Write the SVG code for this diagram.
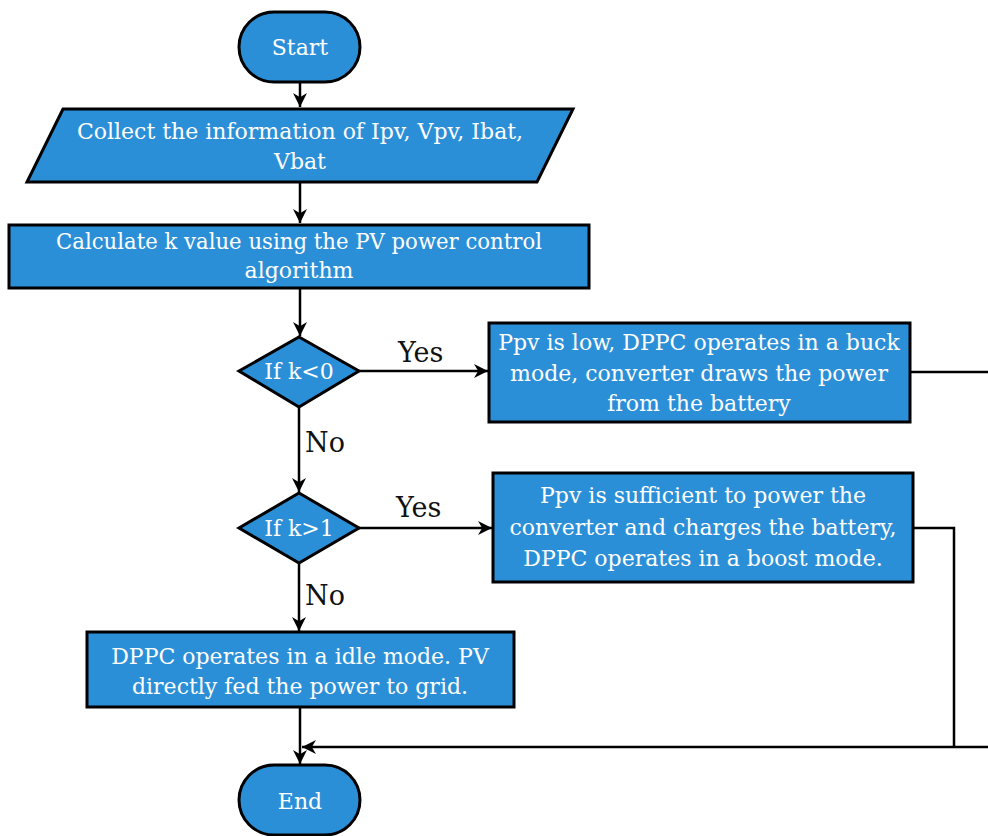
<svg xmlns="http://www.w3.org/2000/svg" width="988" height="836" viewBox="0 0 988 836">
<defs>
<marker id="ah" viewBox="0 0 10 10" refX="10" refY="5" markerWidth="14" markerHeight="14" markerUnits="userSpaceOnUse" orient="auto">
<path d="M0,0 L10,5 L0,10 L3,5 z" fill="#000"/>
</marker>
<style>
.n{fill:#2B8FD8;stroke:#000;stroke-width:3}
.t{font-family:'DejaVu Serif',serif;font-size:22px;fill:#fff;text-anchor:middle}
.l{font-family:'DejaVu Serif',serif;font-size:27px;fill:#111}
.c{fill:none;stroke:#000;stroke-width:2.5}
</style>
</defs>
<rect width="988" height="836" fill="#fff"/>
<g id="connectors">
<line class="c" x1="300" y1="82" x2="300" y2="107" marker-end="url(#ah)"/>
<line class="c" x1="300" y1="183" x2="300" y2="223" marker-end="url(#ah)"/>
<line class="c" x1="300" y1="289" x2="300" y2="336" marker-end="url(#ah)"/>
<line class="c" x1="299" y1="407" x2="299" y2="492" marker-end="url(#ah)"/>
<line class="c" x1="299" y1="563" x2="299" y2="631" marker-end="url(#ah)"/>
<line class="c" x1="300" y1="708" x2="300" y2="764" marker-end="url(#ah)"/>
<line class="c" x1="359" y1="371" x2="488" y2="371" marker-end="url(#ah)"/>
<line class="c" x1="359" y1="528" x2="492" y2="528" marker-end="url(#ah)"/>
<line class="c" x1="911" y1="372" x2="988" y2="372"/>
<polyline class="c" points="914,528 954,528 954,747"/>
<line class="c" x1="988" y1="747" x2="302" y2="747" marker-end="url(#ah)"/>
<text class="l" x="398" y="362">Yes</text>
<text class="l" x="396" y="517">Yes</text>
<text class="l" x="305" y="452">No</text>
<text class="l" x="305" y="605">No</text>
</g>
<g id="start">
<rect class="n" x="239" y="12" width="121" height="70" rx="35" ry="35"/>
<text class="t" x="300" y="55">Start</text>
</g>
<g id="collect">
<polygon class="n" points="63,109 573,109 537,182 27,182"/>
<text class="t" x="300" y="139">Collect the information of Ipv, Vpv, Ibat,</text>
<text class="t" x="300" y="169">Vbat</text>
</g>
<g id="calc">
<rect class="n" x="9" y="225" width="580" height="63"/>
<text class="t" x="299" y="249" textLength="486" lengthAdjust="spacingAndGlyphs">Calculate k value using the PV power control</text>
<text class="t" x="299" y="278">algorithm</text>
</g>
<g id="dec1">
<polygon class="n" points="299,337 359,371 299,407 239,371"/>
<text class="t" x="299" y="379">If k&lt;0</text>
</g>
<g id="dec2">
<polygon class="n" points="299,493 359,528 299,563 239,528"/>
<text class="t" x="299" y="536">If k&gt;1</text>
</g>
<g id="buck">
<rect class="n" x="489" y="323" width="421" height="99"/>
<text class="t" x="699" y="350">Ppv is low, DPPC operates in a buck</text>
<text class="t" x="699" y="381">mode, converter draws the power</text>
<text class="t" x="699" y="411">from the battery</text>
</g>
<g id="boost">
<rect class="n" x="493" y="473" width="420" height="109"/>
<text class="t" x="703" y="503">Ppv is sufficient to power the</text>
<text class="t" x="703" y="535">converter and charges the battery,</text>
<text class="t" x="703" y="566">DPPC operates in a boost mode.</text>
</g>
<g id="idle">
<rect class="n" x="87" y="632" width="427" height="75"/>
<text class="t" x="300" y="664">DPPC operates in a idle mode. PV</text>
<text class="t" x="300" y="694">directly fed the power to grid.</text>
</g>
<g id="end">
<rect class="n" x="239" y="765" width="121" height="70" rx="35" ry="35"/>
<text class="t" x="300" y="809">End</text>
</g>
</svg>
